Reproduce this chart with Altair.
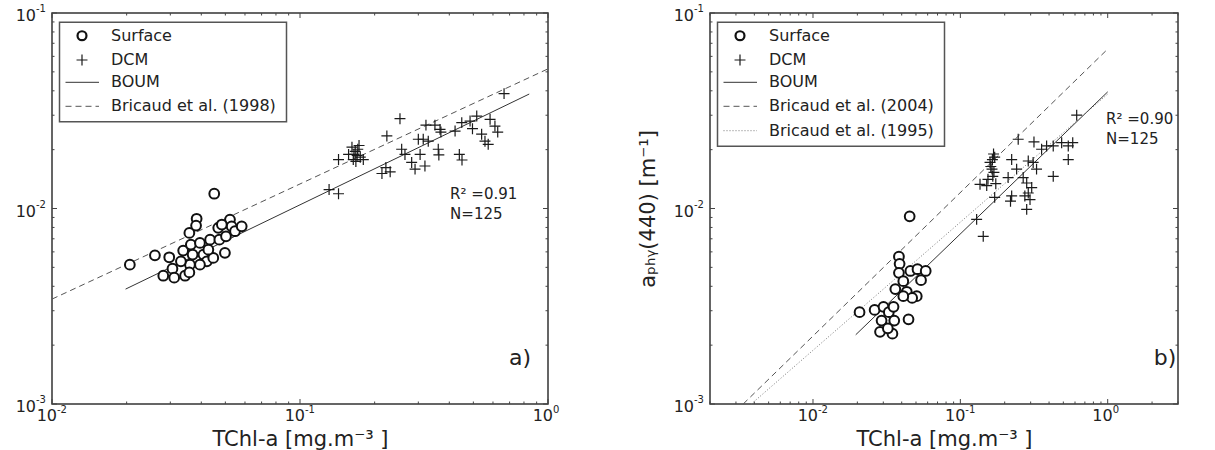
import altair as alt
import pandas as pd

FONT = "DejaVu Sans"
INK = "#222222"

# ---------------- panel a) ----------------
a_surface_chl = [0.0451, 0.0206, 0.0260, 0.0297, 0.0281, 0.0306, 0.0338, 0.0358, 0.0383, 0.0381,
                 0.0363, 0.0369, 0.0360, 0.0344, 0.0358, 0.0331, 0.0395, 0.0408, 0.0421, 0.0434,
                 0.0447, 0.0468, 0.0473, 0.0498, 0.0503, 0.0522, 0.0530, 0.0547, 0.0582, 0.0484,
                 0.0427, 0.0311, 0.0395]
a_surface_val = [0.0119, 0.00516, 0.00576, 0.00563, 0.00453, 0.00492, 0.00609, 0.00750, 0.00886, 0.00818,
                 0.00654, 0.00581, 0.00516, 0.00453, 0.00471, 0.00537, 0.00667, 0.00581, 0.00537, 0.00693,
                 0.00559, 0.00796, 0.00693, 0.00593, 0.00721, 0.00878, 0.00811, 0.00765, 0.00811, 0.00828,
                 0.00616, 0.00443, 0.00516]

a_dcm_chl = [0.253, 0.224, 0.143, 0.157, 0.162, 0.167, 0.170, 0.164, 0.173, 0.168,
             0.175, 0.165, 0.171, 0.180, 0.131, 0.143, 0.222, 0.231, 0.214, 0.257,
             0.265, 0.282, 0.291, 0.319, 0.305, 0.300, 0.314, 0.329, 0.322, 0.350,
             0.367, 0.361, 0.439, 0.422, 0.449, 0.485, 0.516, 0.540, 0.557, 0.584,
             0.611, 0.665, 0.627, 0.574, 0.496, 0.450, 0.370, 0.363]
a_dcm_val = [0.0288, 0.0235, 0.0178, 0.0189, 0.0206, 0.0196, 0.0187, 0.0178, 0.0210, 0.0174,
             0.0183, 0.0189, 0.0201, 0.0178, 0.0125, 0.0119, 0.0162, 0.0154, 0.0151, 0.0201,
             0.0189, 0.0172, 0.0159, 0.0165, 0.0189, 0.0226, 0.0226, 0.0221, 0.0267, 0.0267,
             0.0254, 0.0201, 0.0189, 0.0249, 0.0275, 0.0280, 0.0297, 0.0240, 0.0221, 0.0286,
             0.0264, 0.0387, 0.0246, 0.0213, 0.0256, 0.0177, 0.0246, 0.0188]

# fitted power laws, end points
a_boum_chl = [0.0198, 0.84]
a_boum_val = [0.00387, 0.0385]
a_bricaud98_chl = [0.01, 1.0]
a_bricaud98_val = [0.00344, 0.0518]

# ---------------- panel b) ----------------
b_surface_chl = [0.0453, 0.0207, 0.0262, 0.0301, 0.0327, 0.0285, 0.0346, 0.0292, 0.0356, 0.0352,
                 0.0383, 0.0387, 0.0383, 0.0362, 0.0410, 0.0433, 0.0458, 0.0512, 0.0541, 0.0582,
                 0.0506, 0.0445, 0.0471, 0.0410, 0.0322]
b_surface_val = [0.00912, 0.00295, 0.00303, 0.00314, 0.00295, 0.00234, 0.00229, 0.00267, 0.00267, 0.00314,
                 0.00567, 0.00521, 0.00469, 0.00387, 0.00425, 0.00375, 0.00479, 0.00489, 0.00430, 0.00479,
                 0.00356, 0.00271, 0.00349, 0.00356, 0.00244]

b_dcm_chl = [0.247, 0.316, 0.356, 0.385, 0.427, 0.487, 0.540, 0.579, 0.540, 0.427,
             0.616, 0.223, 0.241, 0.289, 0.312, 0.329, 0.267, 0.282, 0.305, 0.289,
             0.297, 0.282, 0.223, 0.171, 0.129, 0.143, 0.136, 0.159, 0.164, 0.166,
             0.154, 0.171, 0.151, 0.174, 0.161, 0.169, 0.211, 0.219, 0.274, 0.168, 0.165]
b_dcm_val = [0.0226, 0.0219, 0.0201, 0.0209, 0.0209, 0.0217, 0.0209, 0.0217, 0.0178, 0.0146,
             0.0300, 0.0178, 0.0159, 0.0175, 0.0172, 0.0159, 0.0144, 0.0135, 0.0128, 0.0120,
             0.0111, 0.0099, 0.0116, 0.0114, 0.0088, 0.0072, 0.0133, 0.0172, 0.0159, 0.0146,
             0.0141, 0.0183, 0.0131, 0.0134, 0.0164, 0.0153, 0.0144, 0.0109, 0.0116, 0.0190, 0.0178]

b_boum_chl = [0.0195, 1.0]
b_boum_val = [0.00226, 0.0395]
b_bricaud04_chl = [0.00336, 1.0]
b_bricaud04_val = [0.001, 0.0654]
b_bricaud95_chl = [0.00381, 1.0]
b_bricaud95_val = [0.001, 0.0385]

# axis decades, their exponent labels, and minor ticks
y_major = [0.001, 0.01, 0.1]
y_exp = ["-3", "-2", "-1"]
x_major = [0.01, 0.1, 1.0]
x_exp = ["-2", "-1", "0"]
a_x_minor = [m * d for d in (0.01, 0.1) for m in range(2, 10)]
b_x_minor = [m * d for d in (0.001,) for m in range(2, 10)] + \
            [m * d for d in (0.01, 0.1) for m in range(2, 10)] + [2.0, 3.0]
y_minor = [m * d for d in (0.001, 0.01) for m in range(2, 10)]

X_TITLE = "TChl-a [mg.m⁻³ ]"
B_Y_TITLE = "aₚₕᵧ(440) [m⁻¹]"

TEXT_SIZE = 15
LEGEND_SIZE = 16
BASE_SIZE = 16     # the "10" of a decade label
EXP_SIZE = 10      # its exponent
TITLE_SIZE = 21

one = pd.DataFrame({"k": [0]})


def xy(xs, ys):
    return pd.DataFrame({"x": xs, "y": ys})


def panel(W, H, xdom, x_minor, surf, dcm, lines, legend_lines, notes, tag, ytitle):
    X = alt.X("x:Q", scale=alt.Scale(type="log", domain=xdom, nice=False),
              axis=alt.Axis(labels=False, title=X_TITLE, grid=False, ticks=False, domain=False,
                            titlePadding=24.5))
    Y = alt.Y("y:Q", scale=alt.Scale(type="log", domain=[0.001, 0.1], nice=False),
              axis=alt.Axis(labels=False, title=ytitle, grid=False, ticks=False, domain=False,
                            titlePadding=52))
    layers = []
    # inward ticks on all four sides
    for vals, ln in ((x_major, 5), (x_minor, 2.5)):
        d = pd.DataFrame({"x": vals})
        layers.append(alt.Chart(d).mark_rule(color="#444", strokeWidth=1).encode(
            x=X, y=alt.value(H), y2=alt.value(H - ln)))
        layers.append(alt.Chart(d).mark_rule(color="#444", strokeWidth=1).encode(
            x=X, y=alt.value(0), y2=alt.value(ln)))
    for vals, ln in ((y_major, 5), (y_minor, 2.5)):
        d = pd.DataFrame({"y": vals})
        layers.append(alt.Chart(d).mark_rule(color="#444", strokeWidth=1).encode(
            y=Y, x=alt.value(0), x2=alt.value(ln)))
        layers.append(alt.Chart(d).mark_rule(color="#444", strokeWidth=1).encode(
            y=Y, x=alt.value(W), x2=alt.value(W - ln)))
    # decade labels: "10" with a raised exponent
    xl = pd.DataFrame({"x": x_major, "sup": x_exp})
    layers.append(alt.Chart(xl).mark_text(text="10", align="right", baseline="middle", dx=5,
                                          font=FONT, fontSize=BASE_SIZE, color=INK).encode(
        x=X, y=alt.value(H + 12)))
    layers.append(alt.Chart(xl).mark_text(align="left", baseline="middle", dx=5,
                                          font=FONT, fontSize=EXP_SIZE, color=INK).encode(
        x=X, y=alt.value(H + 6), text="sup:N"))
    yl = pd.DataFrame({"y": y_major, "sup": y_exp})
    layers.append(alt.Chart(yl).mark_text(text="10", align="right", baseline="middle", dy=3,
                                          font=FONT, fontSize=BASE_SIZE, color=INK).encode(
        y=Y, x=alt.value(-16)))
    layers.append(alt.Chart(yl).mark_text(align="left", baseline="middle", dy=-4,
                                          font=FONT, fontSize=EXP_SIZE, color=INK).encode(
        y=Y, x=alt.value(-16), text="sup:N"))
    # fitted lines
    for (xs, ys), dash, col in lines:
        kw = {"strokeDash": dash} if dash else {}
        layers.append(alt.Chart(xy(xs, ys)).mark_line(color=col, strokeWidth=1, **kw).encode(x=X, y=Y))
    # observations
    layers.append(alt.Chart(xy(*dcm)).mark_point(
        shape="M-1,0L1,0M0,-1L0,1", filled=False, stroke="#1a1a1a", strokeWidth=1.2,
        size=120, opacity=1).encode(x=X, y=Y))
    layers.append(alt.Chart(xy(*surf)).mark_point(
        shape="circle", filled=True, fill="white", stroke="#111", strokeWidth=2,
        size=95, opacity=1).encode(x=X, y=Y))
    # statistics
    nd = pd.DataFrame(notes)
    layers.append(alt.Chart(nd).mark_text(align="left", baseline="middle", font=FONT,
                                          fontSize=TEXT_SIZE, color=INK).encode(x=X, y=Y, text="label:N"))
    td = pd.DataFrame([tag])
    layers.append(alt.Chart(td).mark_text(align="right", baseline="middle", font=FONT,
                                          fontSize=22, color=INK).encode(x=X, y=Y, text="label:N"))
    # legend
    rows = [22.7, 47, 69.3, 93.3, 117.7]
    n = 2 + len(legend_lines)
    box_bottom = rows[n - 1] + 15.5
    layers.append(alt.Chart(one).mark_rect(fill="white", stroke="#555", strokeWidth=1.5).encode(
        x=alt.value(7.5), x2=alt.value(234.5), y=alt.value(9.3), y2=alt.value(box_bottom)))
    layers.append(alt.Chart(one).mark_point(
        shape="circle", filled=True, fill="white", stroke="#111", strokeWidth=2.2,
        size=80, opacity=1).encode(x=alt.value(30), y=alt.value(rows[0])))
    layers.append(alt.Chart(one).mark_point(
        shape="M-1,0L1,0M0,-1L0,1", filled=False, stroke="#1a1a1a", strokeWidth=1.2,
        size=120, opacity=1).encode(x=alt.value(30), y=alt.value(rows[1])))
    labels = ["Surface", "DCM"]
    for i, (lab, dash, col) in enumerate(legend_lines):
        kw = {"strokeDash": dash} if dash else {}
        layers.append(alt.Chart(one).mark_rule(color=col, strokeWidth=1, **kw).encode(
            x=alt.value(13.5), x2=alt.value(47), y=alt.value(rows[2 + i])))
        labels.append(lab)
    for i, lab in enumerate(labels):
        layers.append(alt.Chart(one).mark_text(text=lab, align="left", baseline="middle", font=FONT,
                                               fontSize=LEGEND_SIZE, color=INK).encode(
            x=alt.value(59), y=alt.value(rows[i])))
    return alt.layer(*layers).properties(width=W, height=H)


left = panel(
    496, 391, [0.01, 1.0], a_x_minor,
    (a_surface_chl, a_surface_val), (a_dcm_chl, a_dcm_val),
    [((a_boum_chl, a_boum_val), None, "#333"),
     ((a_bricaud98_chl, a_bricaud98_val), [6, 4], "#555")],
    [("BOUM", None, "#333"), ("Bricaud et al. (1998)", [6, 4], "#555")],
    [{"x": 0.403, "y": 0.0118, "label": "R² =0.91"}, {"x": 0.403, "y": 0.0094, "label": "N=125"}],
    {"x": 0.854, "y": 0.00172, "label": "a)"}, "")

right = panel(
    468, 391, [0.002, 3.0], b_x_minor,
    (b_surface_chl, b_surface_val), (b_dcm_chl, b_dcm_val),
    [((b_boum_chl, b_boum_val), None, "#333"),
     ((b_bricaud04_chl, b_bricaud04_val), [6, 4], "#555"),
     ((b_bricaud95_chl, b_bricaud95_val), [1, 2], "#777")],
    [("BOUM", None, "#333"), ("Bricaud et al. (2004)", [6, 4], "#555"),
     ("Bricaud et al. (1995)", [1, 2], "#777")],
    [{"x": 0.975, "y": 0.0288, "label": "R² =0.90"}, {"x": 0.975, "y": 0.0228, "label": "N=125"}],
    {"x": 2.92, "y": 0.00172, "label": "b)"}, B_Y_TITLE)

chart = alt.hconcat(left, right, spacing=75).properties(
    padding={"left": 14, "top": 3, "right": 0, "bottom": 0}
).configure_view(stroke="#333", strokeWidth=1.5).configure_axis(
    labelFont=FONT, titleFont=FONT, labelColor=INK, titleColor=INK,
    titleFontSize=TITLE_SIZE, titleFontWeight="normal"
)

chart.save("out.html", embed_options={"renderer": "svg", "actions": False})
